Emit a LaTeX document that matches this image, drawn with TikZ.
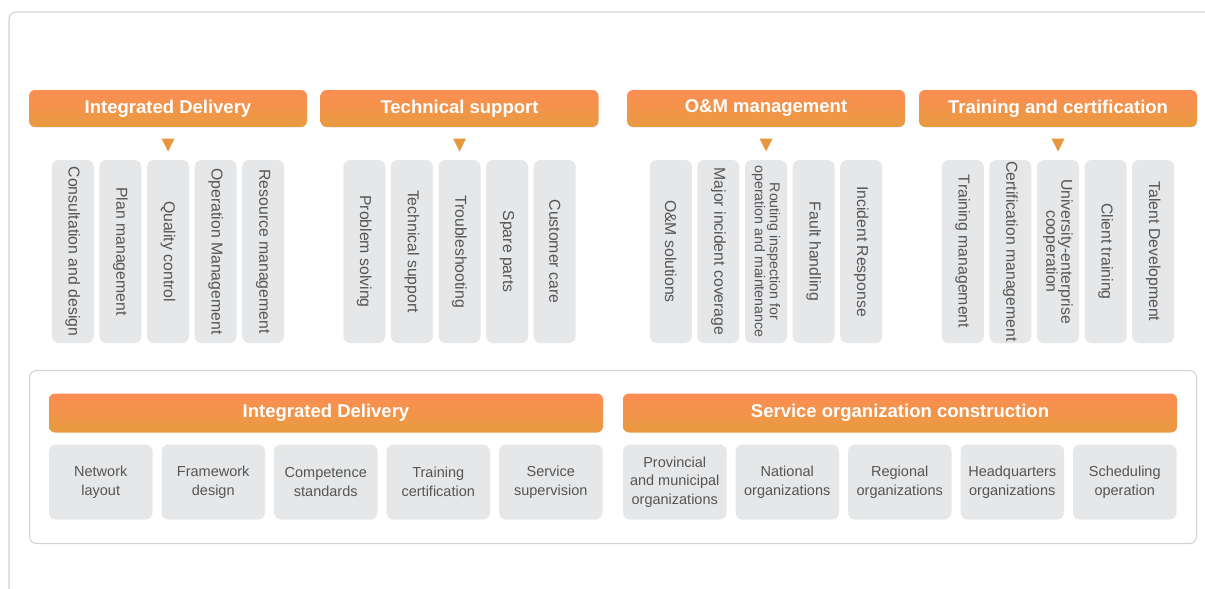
\documentclass[tikz,border=0pt]{standalone}
\usepackage{fontspec}
\setmainfont{Liberation Sans}
\definecolor{otop}{HTML}{FC8D53}
\definecolor{obot}{HTML}{E89B40}
\definecolor{tricol}{HTML}{E8973E}
\definecolor{pillgray}{HTML}{E6E7E9}
\definecolor{txtgray}{HTML}{555555}
\definecolor{framegray}{HTML}{D2D2D2}
\begin{document}
\begin{tikzpicture}[x=1pt,y=-1pt,
  hdr/.style={rounded corners=6pt, top color=otop, bottom color=obot, text=white,
    font=\fontsize{18.5}{20}\selectfont\bfseries, minimum height=37pt, inner sep=0pt},
  pill/.style={rounded corners=7pt, fill=pillgray, text=txtgray, rotate=-90,
    minimum width=183pt, minimum height=42pt, inner sep=0pt, align=center,
    font=\fontsize{15.8}{15}\selectfont},
  smallpill/.style={pill, font=\fontsize{14.2}{15}\selectfont},
  cell/.style={rounded corners=7pt, fill=pillgray, text=txtgray, minimum width=103.5pt,
    minimum height=75pt, inner sep=0pt, align=center, font=\fontsize{14.5}{18.5}\selectfont},
  frame/.style={draw=framegray, line width=1.2pt, rounded corners=7pt},
  tri/.style={fill=tricol}]
\useasboundingbox (0,0) rectangle (1205,589);
\fill[white] (0,0) rectangle (1205,589);
% outer frame
\coordinate (fa) at (9,589);
\coordinate (fb) at (9,12);
\coordinate (fc) at (1205,12);
\draw[frame] (fa) -- (fb) -- (fc);

% top headers
\node[hdr, minimum width=278pt] (h1) at (168,108.5) {Integrated Delivery};
\node[hdr, minimum width=278pt] (h2) at (459.5,108.5) {Technical support};
\node[hdr, minimum width=278pt] (h3) at (766,108.5) {O\&M management};
\node[hdr, minimum width=278pt] (h4) at (1058,108.5) {Training and certification};

% triangles
\foreach \n/\cx in {1/168,2/459.5,3/766,4/1058}{
  \coordinate (t\n) at (\cx,138.5);
  \fill[tri] (t\n) ++(-6.5,0) -- ++(13,0) -- ++(-6.5,13) -- cycle;
}

% group 1 pills
\node[pill] (p11) at (72.8,251.5) {Consultation and design};
\node[pill] (p12) at (120.4,251.5) {Plan management};
\node[pill] (p13) at (168,251.5) {Quality control};
\node[pill] (p14) at (215.6,251.5) {Operation Management};
\node[pill] (p15) at (263.2,251.5) {Resource management};
% group 2
\node[pill] (p21) at (364.3,251.5) {Problem solving};
\node[pill] (p22) at (411.9,251.5) {Technical support};
\node[pill] (p23) at (459.5,251.5) {Troubleshooting};
\node[pill] (p24) at (507.1,251.5) {Spare parts};
\node[pill] (p25) at (554.7,251.5) {Customer care};
% group 3
\node[pill] (p31) at (670.8,251.5) {O\&M solutions};
\node[pill] (p32) at (718.4,251.5) {Major incident coverage};
\node[smallpill] (p33) at (766,251.5) {Routing inspection for\\operation and maintenance};
\node[pill] (p34) at (813.6,251.5) {Fault handling};
\node[pill] (p35) at (861.2,251.5) {Incident Response};
% group 4
\node[pill] (p41) at (962.8,251.5) {Training management};
\node[pill] (p42) at (1010.4,251.5) {Certification management};
\node[pill] (p43) at (1058,251.5) {University-enterprise\\cooperation};
\node[pill] (p44) at (1105.6,251.5) {Client training};
\node[pill] (p45) at (1153.2,251.5) {Talent Development};

% bottom container
\node[frame, minimum width=1167pt, minimum height=173pt, inner sep=0pt, line width=1pt] (box) at (613,457) {};

% bottom headers
\node[hdr, minimum width=554pt, minimum height=39pt] (b1) at (326,413) {Integrated Delivery};
\node[hdr, minimum width=554pt, minimum height=39pt] (b2) at (900,413) {Service organization construction};

% bottom cells
\node[cell] (c11) at (100.75,482) {Network\\layout};
\node[cell] (c12) at (213.25,482) {Framework\\design};
\node[cell] (c13) at (325.75,482) {Competence\\standards};
\node[cell] (c14) at (438.25,482) {Training\\certification};
\node[cell] (c15) at (550.75,482) {Service\\supervision};
\node[cell] (c21) at (674.75,482) {Provincial\\and municipal\\organizations};
\node[cell] (c22) at (787.25,482) {National\\organizations};
\node[cell] (c23) at (899.75,482) {Regional\\organizations};
\node[cell] (c24) at (1012.25,482) {Headquarters\\organizations};
\node[cell] (c25) at (1124.75,482) {Scheduling\\operation};
\end{tikzpicture}
\end{document}
